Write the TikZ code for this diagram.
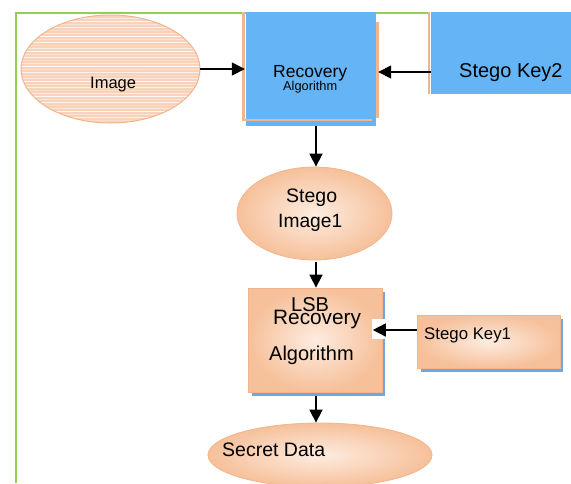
\documentclass[tikz,border=0pt]{standalone}
\usepackage{fontspec}
\setmainfont{Liberation Sans}
\usetikzlibrary{arrows.meta,shapes.geometric}
\definecolor{kblue}{RGB}{100,180,246}
\definecolor{kgreen}{RGB}{146,208,80}
\definecolor{kpeach}{RGB}{246,192,154}
\definecolor{kpeachlight}{RGB}{253,236,224}
\definecolor{kedge}{RGB}{242,180,138}
\definecolor{kshadow}{RGB}{110,168,225}
\begin{document}
\begin{tikzpicture}[x=1pt,y=-1pt,
  lbl/.style={anchor=base west, inner sep=0pt, font=\fontsize{#1}{#1}\selectfont},
  arr/.style={line width=1.6pt, -{Triangle[length=13pt,width=13pt]}},
  bluebox/.style={rectangle, fill=kblue, inner sep=0pt},
  peachbox/.style={rectangle, inner sep=0pt, draw=kedge, line width=0.8pt,
     inner color=kpeachlight, outer color=kpeach},
  peachell/.style={ellipse, inner sep=0pt, draw=kedge, line width=0.8pt,
     inner color=kpeachlight, outer color=kpeach},
  shadowbox/.style={rectangle, fill=kshadow, inner sep=0pt},
  frame/.style={kedge, line width=2.5pt}]
\clip (0,0) rectangle (571,483);
% green frame
\draw[kgreen, line width=2pt] (15.5,483) -- (15.5,12.5) -- (430,12.5);

% Image ellipse with stripes
\node[ellipse, inner sep=0pt, minimum width=179pt, minimum height=108pt, fill={rgb,255:red,248;green,210;blue,186}] (img) at (110.5,69) {};
\begin{scope}
  \clip (img.center) ellipse [x radius=89.5, y radius=54];
  \foreach \i in {0,...,36}{
    \pgfmathsetmacro\op{0.25+0.6*mod(\i*7,5)/4}
    \draw[white, opacity=\op, line width=0.9pt] (20,15.5+3*\i) -- (201,15.5+3*\i);
  }
\end{scope}
\draw[kedge, line width=1pt] (img.center) ellipse [x radius=89.5, y radius=54];
\node[lbl=16.5] (timg) at (90,88) {Image};

% top recovery box
\node[bluebox, minimum width=130pt, minimum height=114pt] (rec) at (311,69) {};
\draw[frame] (243.5,12) -- (243.5,120) -- (372,120);
\draw[frame] (377.5,22) -- (377.5,118);
\node[lbl=17.5] (trec1) at (273,77) {Recovery};
\node[lbl=12.8] (trec2) at (283,90) {Algorithm};

% stego key2
\node[bluebox, minimum width=140pt, minimum height=82pt] (key2) at (501,53) {};
\draw[frame] (429,12) -- (429,94);
\node[lbl=20] (tkey2) at (459,77) {Stego Key2};

% stego image1
\node[peachell, minimum width=155pt, minimum height=93pt] (stg) at (314.5,213.5) {};
\node[lbl=19.5] (tstg1) at (286,202) {Stego};
\node[lbl=19.2] (tstg2) at (278,227) {Image1};

% LSB recovery box
\node[shadowbox, minimum width=133pt, minimum height=104pt] (lsbsh) at (318.5,344) {};
\node[peachbox, minimum width=134pt, minimum height=104pt] (lsb) at (315,340) {};
\node[lbl=20] (tlsb1) at (291,311) {LSB};
\node[lbl=20.8] (tlsb2) at (273,324) {Recovery};
\node[lbl=20] (tlsb3) at (269,360) {Algorithm};
\node[rectangle, fill=white, inner sep=0pt, minimum width=18pt, minimum height=20pt] (gap) at (381,329) {};

% stego key1
\node[shadowbox, minimum width=142pt, minimum height=53pt] (key1sh) at (492,345.5) {};
\node[peachbox, minimum width=143pt, minimum height=53pt] (key1) at (488.5,341.5) {};
\node[lbl=16.8] (tkey1) at (424,339) {Stego Key1};

% secret data
\node[peachell, minimum width=224pt, minimum height=64pt] (sec) at (320,455) {};
\node[lbl=19.5] (tsec) at (222,456) {Secret Data};

% connectors
\coordinate (yb) at (0,72);
\coordinate (xc) at (316,0);
\coordinate (yd) at (0,330);
\draw[arr] (img.east) -- ([xshift=-1pt]img.east -| rec.west);
\draw[arr] (yb -| key2.west) -- ([xshift=2pt]yb -| rec.east);
\draw[arr] (xc |- rec.south) -- (xc |- stg.north);
\draw[arr] ([yshift=-2pt]xc |- stg.south) -- (xc |- lsb.north);
\draw[arr] (xc |- lsbsh.south) -- (xc |- sec.north);
\draw[arr] (yd -| key1.west) -- ([xshift=1pt]yd -| gap.west);
\end{tikzpicture}
\end{document}
